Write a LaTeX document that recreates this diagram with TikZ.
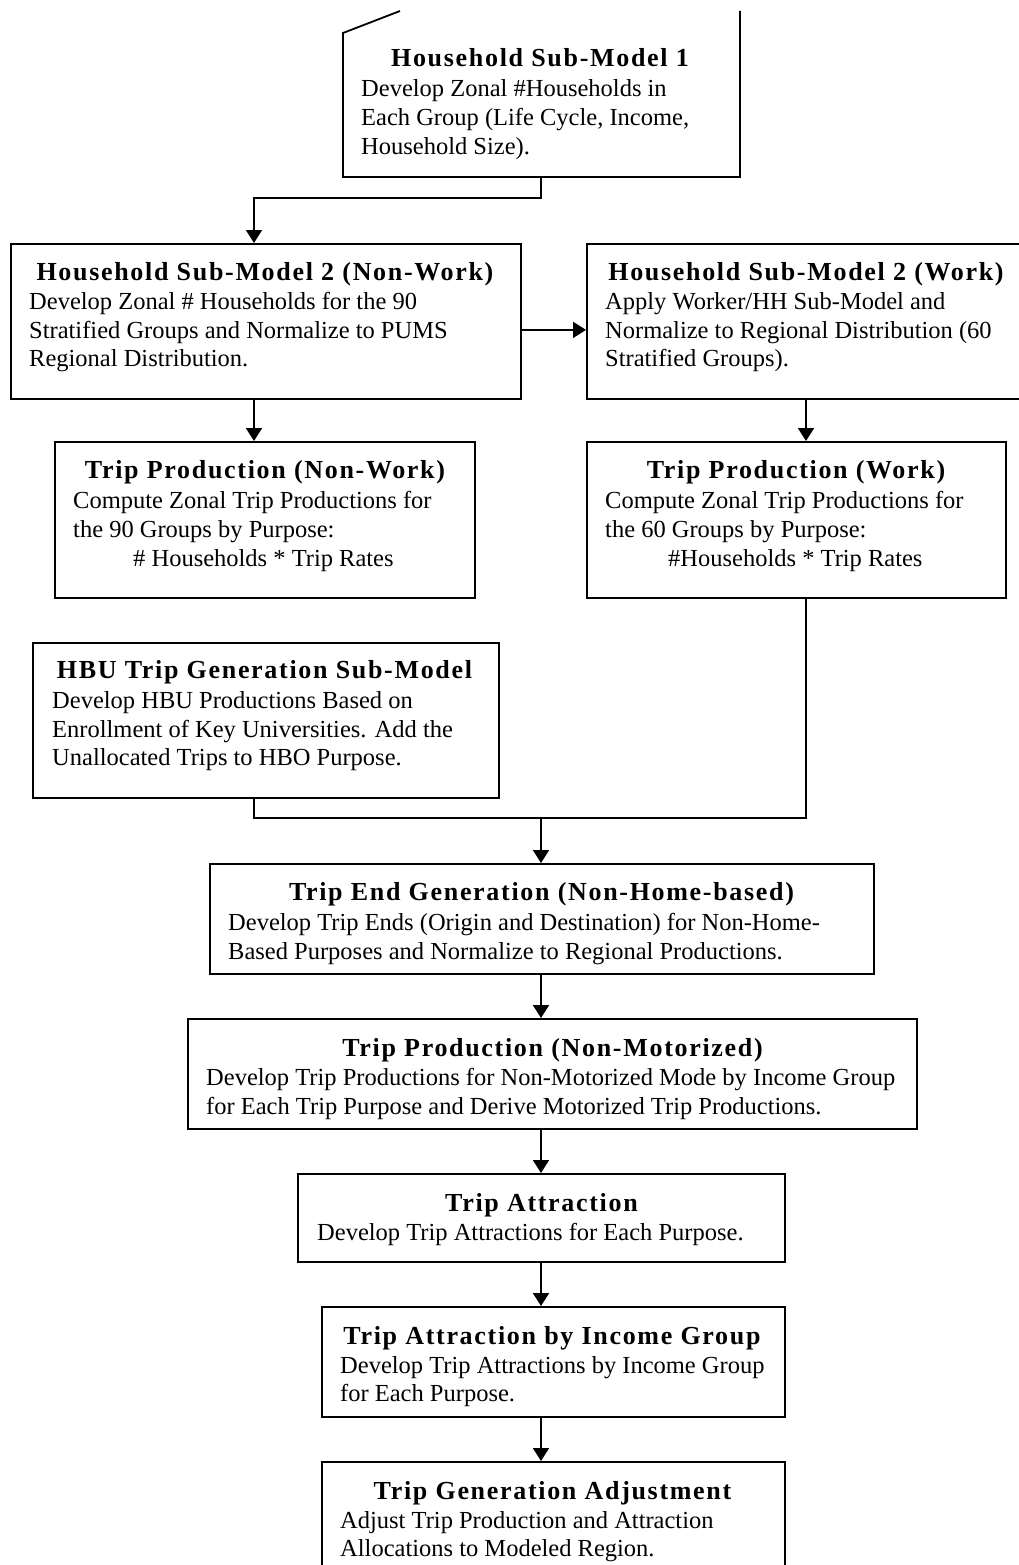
\documentclass[tikz,border=0pt]{standalone}
\usepackage{fontspec}
\setmainfont{Liberation Serif}
\newfontfamily\ttlfont[LetterSpace=6.5]{Liberation Serif Bold}
\usetikzlibrary{arrows.meta}
\tikzset{
  box/.style={draw=black, line width=1.8pt, fill=none},
  conn/.style={line width=1.8pt},
  arr/.style={conn, -{Triangle[length=13pt,width=16pt]}},
  ttl/.style={anchor=base, inner sep=0pt, font=\ttlfont\fontsize{26}{30}\selectfont},
  bod/.style={anchor=base west, inner sep=0pt, font=\fontsize{24.5}{29}\selectfont},
}
\newcommand\bl[3]{\node[bod] (#1) at (#2) {#3};}
\begin{document}
\begin{tikzpicture}[x=1pt,y=-1pt]
\useasboundingbox (0,0) rectangle (1018,1565);
% Box 1 (odd top)
\draw[conn] (400,11) -- (343,33) -- (343,177) -- (740,177) -- (740,11);
\coordinate (b1s) at (541,177);
\node[ttl] (t1) at (540,67) {Household Sub-Model 1};
\bl{l1a}{361,97}{Develop Zonal \#Households in}
\bl{l1b}{361,126}{Each Group (Life Cycle, Income,}
\bl{l1c}{361,155}{Household Size).}
% Box 2 NW
\node[box, anchor=north west, minimum width=510pt, minimum height=155pt, inner sep=0pt] (b2) at (10,243) {};
\node[ttl] (t2) at (265,280) {Household Sub-Model 2 (Non-Work)};
\bl{l2a}{29,309}{Develop Zonal \# Households for the 90}
\bl{l2b}{29,338}{Stratified Groups and Normalize to PUMS}
\bl{l2c}{29,366}{Regional Distribution.}
% Box 3 W
\node[box, anchor=north west, minimum width=450pt, minimum height=155pt, inner sep=0pt] (b3) at (586,243) {};
\node[ttl] (t3) at (806,280) {Household Sub-Model 2 (Work)};
\bl{l3a}{605,309}{Apply Worker/HH Sub-Model and}
\bl{l3b}{605,338}{Normalize to Regional Distribution (60}
\bl{l3c}{605,366}{Stratified Groups).}
% Box 4 TPNW
\node[box, anchor=north west, minimum width=420pt, minimum height=156pt, inner sep=0pt] (b4) at (54,441) {};
\node[ttl] (t4) at (265,478) {Trip Production (Non-Work)};
\bl{l4a}{73,508}{Compute Zonal Trip Productions for}
\bl{l4b}{73,537}{the 90 Groups by Purpose:}
\bl{l4c}{133,566}{\# Households * Trip Rates}
% Box 5 TPW
\node[box, anchor=north west, minimum width=419pt, minimum height=156pt, inner sep=0pt] (b5) at (586,441) {};
\node[ttl] (t5) at (796,478) {Trip Production (Work)};
\bl{l5a}{605,508}{Compute Zonal Trip Productions for}
\bl{l5b}{605,537}{the 60 Groups by Purpose:}
\bl{l5c}{668,566}{\#Households * Trip Rates}
% Box 6 HBU
\node[box, anchor=north west, minimum width=466pt, minimum height=155pt, inner sep=0pt] (b6) at (32,642) {};
\node[ttl] (t6) at (264.5,678) {HBU Trip Generation Sub-Model};
\bl{l6a}{52,708}{Develop HBU Productions Based on}
\bl{l6b}{52,737}{Enrollment of Key Universities. Add the}
\bl{l6c}{52,765}{Unallocated Trips to HBO Purpose.}
% Box 7 TEG
\node[box, anchor=north west, minimum width=664pt, minimum height=110pt, inner sep=0pt] (b7) at (209,863) {};
\node[ttl] (t7) at (541.5,900) {Trip End Generation (Non-Home-based)};
\bl{l7a}{228,930}{Develop Trip Ends (Origin and Destination) for Non-Home-}
\bl{l7b}{228,959}{Based Purposes and Normalize to Regional Productions.}
% Box 8 TPNM
\node[box, anchor=north west, minimum width=729pt, minimum height=110pt, inner sep=0pt] (b8) at (187,1018) {};
\node[ttl] (t8) at (552.5,1056) {Trip Production (Non-Motorized)};
\bl{l8a}{206,1085}{Develop Trip Productions for Non-Motorized Mode by Income Group}
\bl{l8b}{206,1114}{for Each Trip Purpose and Derive Motorized Trip Productions.}
% Box 9 TA
\node[box, anchor=north west, minimum width=487pt, minimum height=88pt, inner sep=0pt] (b9) at (297,1173) {};
\node[ttl] (t9) at (541.5,1211) {Trip Attraction};
\bl{l9a}{317,1240}{Develop Trip Attractions for Each Purpose.}
% Box 10 TAIG
\node[box, anchor=north west, minimum width=463pt, minimum height=110pt, inner sep=0pt] (b10) at (321,1306) {};
\node[ttl] (t10) at (552,1344) {Trip Attraction by Income Group};
\bl{l10a}{340,1373}{Develop Trip Attractions by Income Group}
\bl{l10b}{340,1401}{for Each Purpose.}
% Box 11 TGA
\node[box, anchor=north west, minimum width=463pt, minimum height=130pt, inner sep=0pt] (b11) at (321,1461) {};
\node[ttl] (t11) at (552.5,1499) {Trip Generation Adjustment};
\bl{l11a}{340,1528}{Adjust Trip Production and Attraction}
\bl{l11b}{340,1556}{Allocations to Modeled Region.}
% Connectors
\coordinate (j1) at (541,198);
\coordinate (j2) at (254,198);
\draw[arr] (b1s) -- (j1) -- (j2) -- (j2 |- b2.north);
\draw[arr] ([yshift=-8.5pt]b2.east) -- ([yshift=-8.5pt]b3.west);
\draw[arr] (b2.south -| j2) -- (b4.north -| j2);
\coordinate (cw) at (806,0);
\draw[arr] (b3.south -| cw) -- (b5.north -| cw);
\coordinate (j3) at (254,818);
\coordinate (j4) at (806,818);
\coordinate (j5) at (541,818);
\draw[conn] (b6.south -| j3) -- (j3) -- (j4) -- (b5.south -| j4);
\draw[arr] (j5) -- (b7.north -| j5);
\draw[arr] (b7.south -| j5) -- (b8.north -| j5);
\draw[arr] (b8.south -| j5) -- (b9.north -| j5);
\draw[arr] (b9.south -| j5) -- (b10.north -| j5);
\draw[arr] (b10.south -| j5) -- (b11.north -| j5);
\end{tikzpicture}
\end{document}
